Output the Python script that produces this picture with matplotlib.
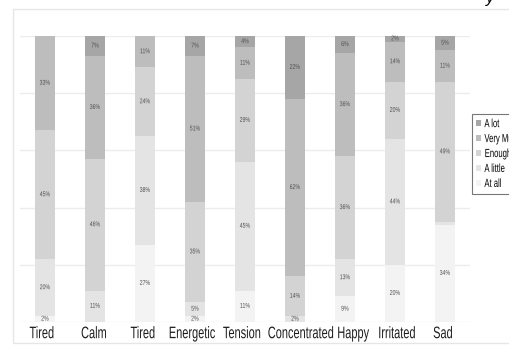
import numpy as np
import matplotlib.pyplot as plt
from matplotlib.patches import Rectangle
from matplotlib.patheffects import AbstractPathEffect
from matplotlib.transforms import Affine2D, ScaledTranslation

plt.rcParams["font.family"] = ["Liberation Sans", "DejaVu Sans"]


class Narrow(AbstractPathEffect):
    """Squeeze text horizontally, like a narrow typeface."""

    def __init__(self, sx=0.65, anchor="center"):
        super().__init__()
        self.sx = sx
        self.anchor = anchor

    def draw_path(self, renderer, gc, tpath, affine, rgbFace=None):
        ext = tpath.get_extents(affine)
        x0 = ext.x0 if self.anchor == "left" else (ext.x0 + ext.x1) / 2
        squeeze = Affine2D().translate(-x0, 0).scale(self.sx, 1).translate(x0, 0)
        renderer.draw_path(gc, tpath, affine + squeeze, rgbFace)


# Mood ratings, percent of answers per level
moods = ["Tired", "Calm", "Tired", "Energetic", "Tension", "Concentrated", "Happy", "Irritated", "Sad"]
at_all = [2, 0, 27, 2, 11, 0, 9, 20, 34]
a_little = [20, 11, 38, 5, 45, 2, 13, 44, 1]
enough = [45, 46, 24, 35, 29, 14, 36, 20, 49]
very_much = [33, 36, 11, 51, 11, 62, 36, 14, 11]
a_lot = [0, 7, 0, 7, 4, 22, 6, 2, 5]

levels = ["At all", "A little", "Enough", "Very Much", "A lot"]
series = [at_all, a_little, enough, very_much, a_lot]
colors = ["#f3f3f3", "#e4e4e4", "#d3d3d3", "#bdbdbd", "#a6a6a6"]

fig = plt.figure(figsize=(5.09, 3.46), dpi=100)
ax = fig.add_axes([20 / 509, 1 - 322 / 346, 450 / 509, 286 / 346])

x = np.arange(len(moods))
bottom = np.zeros(len(moods))
handles = []
for name, vals, col in zip(levels, series, colors):
    vals = np.array(vals, dtype=float)
    bars = ax.bar(x, vals, width=0.39, bottom=bottom, color=col, label=name, zorder=2)
    handles.append(bars)
    for xi, b, v in zip(x, bottom, vals):
        if v >= 2:
            ax.text(xi, b + v / 2, f"{int(v)}%", ha="center", va="center",
                    fontsize=5, color="#505050", zorder=3,
                    path_effects=[Narrow(0.75)])
    bottom += vals

ax.set_xlim(-0.5, 8.5)
ax.set_ylim(0, 100)
ax.set_yticks(np.arange(0, 101, 20))
ax.yaxis.grid(True, color="#ececec", linewidth=1, zorder=0)
ax.tick_params(axis="y", left=False, labelleft=False)
ax.tick_params(axis="x", length=0, pad=3)
ax.set_xticks(x)
ax.set_xticklabels(moods, fontsize=12, color="#1e1e1e")
for s in ax.spines.values():
    s.set_visible(False)

# small nudges so the long labels keep a gap between them
nudge_px = [-3, -1, -2, -3, -3, 6, 8, 2, -2]
for lbl, dx in zip(ax.get_xticklabels(), nudge_px):
    lbl.set_path_effects([Narrow(0.66)])
    lbl.set_transform(lbl.get_transform() + ScaledTranslation(dx / 100, 0, fig.dpi_scale_trans))

# legend, top entry is the strongest level
leg = fig.legend(handles[::-1], levels[::-1], loc="upper left",
                 bbox_to_anchor=(472 / 509, 1 - 114 / 346), borderaxespad=0,
                 frameon=True, fontsize=8.5, handlelength=0.4, handleheight=0.4,
                 handletextpad=0.3, labelspacing=0.25, borderpad=0.35, fancybox=False)
leg.get_frame().set_edgecolor("#555555")
leg.get_frame().set_linewidth(0.8)
for t in leg.get_texts():
    t.set_path_effects([Narrow(0.65, anchor="left")])

# light outer frame
fig.patches.append(Rectangle((13 / 509, 1 - 343 / 346), 520 / 509, 334 / 346,
                             transform=fig.transFigure, fill=False,
                             edgecolor="#e6e6e6", linewidth=1))

fig.text(0.962, 1.005, "y", fontsize=12, style="italic", ha="center", va="center")

fig.savefig("out.png", dpi=100)
